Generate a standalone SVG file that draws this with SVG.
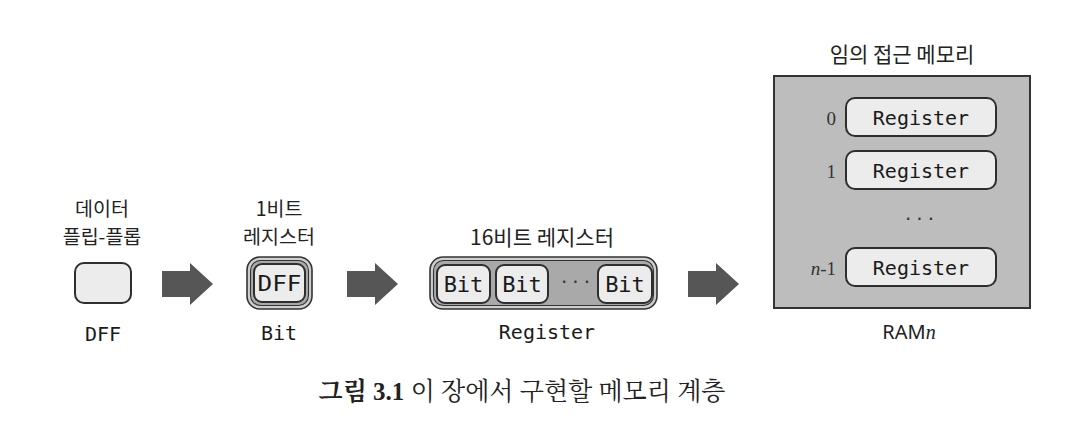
<svg xmlns="http://www.w3.org/2000/svg" width="1076" height="446" viewBox="0 0 1076 446">
<style>
.bg{fill:#ffffff}
.kr{font-family:"Noto Sans CJK KR","Noto Sans",sans-serif;font-size:20px;fill:#222;text-anchor:middle}
.kr19{font-size:19.5px}
.kr21{font-size:21px}
.mono{font-family:"DejaVu Sans Mono","Liberation Mono",monospace;fill:#1a1a1a;text-anchor:middle}
.lbl{font-size:20px}
.inbox{font-size:22px}
.num{font-family:"Liberation Serif",serif;font-size:19px;fill:#333;text-anchor:end}
.light{fill:#ececec;stroke:#2e2e2e;stroke-width:2}
.outer{fill:#cfcfcf;stroke:#333;stroke-width:1.6}
.band{fill:#a9a9a9;stroke:#333;stroke-width:1.1}
.ram{fill:#bdbdbd;stroke:#333;stroke-width:2}
.arrow{fill:#565656}
.dots{font-family:"DejaVu Sans",sans-serif;font-size:20px;fill:#333;text-anchor:middle;letter-spacing:5px}
.cap{font-family:"Liberation Serif","Noto Serif CJK KR","Noto Sans CJK KR",serif;font-size:25px;fill:#222;text-anchor:middle}
</style>
<rect class="bg" x="0" y="0" width="1076" height="446"/>

<g id="dff">
  <text class="kr kr19" x="102" y="215.5">데이터</text>
  <text class="kr kr19" x="102" y="244">플립-플롭</text>
  <rect class="light" x="75" y="263" width="56" height="40" rx="9"/>
  <text class="mono lbl" x="103" y="341">DFF</text>
</g>

<g id="bit">
  <text class="kr kr19" x="279" y="215.5">1비트</text>
  <text class="kr kr19" x="279" y="244">레지스터</text>
  <rect class="outer" x="247" y="257" width="65" height="52" rx="13"/>
  <rect class="band" x="250.5" y="260.5" width="58" height="45" rx="10"/>
  <rect class="light" x="254" y="264" width="51" height="38" rx="8"/>
  <text class="mono inbox" x="279.5" y="291" textLength="44" lengthAdjust="spacingAndGlyphs">DFF</text>
  <text class="mono lbl" x="279" y="340">Bit</text>
</g>

<g id="register">
  <text class="kr kr21" x="542" y="245">16비트 레지스터</text>
  <rect class="outer" x="430" y="257" width="227" height="52" rx="13"/>
  <rect class="band" x="433.5" y="260.5" width="220" height="45" rx="10"/>
  <rect class="light" x="437" y="265" width="53" height="38" rx="8"/>
  <rect class="light" x="496" y="265" width="52" height="38" rx="8"/>
  <rect class="light" x="598" y="265" width="54" height="38" rx="8"/>
  <text class="mono inbox" x="463.5" y="292">Bit</text>
  <text class="mono inbox" x="522" y="292">Bit</text>
  <text class="mono inbox" x="625" y="292">Bit</text>
  <text class="dots" x="578" y="289">···</text>
  <text class="mono lbl" x="547" y="339">Register</text>
</g>

<g id="ram">
  <text class="kr kr21" x="902" y="62">임의 접근 메모리</text>
  <rect class="ram" x="774" y="76" width="256" height="232"/>
  <rect class="light" x="846" y="98" width="150" height="38" rx="9"/>
  <rect class="light" x="846" y="151" width="150" height="38" rx="9"/>
  <rect class="light" x="846" y="248" width="150" height="38" rx="9"/>
  <text class="mono lbl" x="921" y="125">Register</text>
  <text class="mono lbl" x="921" y="178">Register</text>
  <text class="mono lbl" x="921" y="275">Register</text>
  <text class="num" x="836" y="125">0</text>
  <text class="num" x="836" y="178">1</text>
  <text class="num" x="836" y="275"><tspan font-style="italic">n</tspan>-1</text>
  <text class="dots" x="922" y="226">···</text>
  <text x="909" y="339" style="font-family:'Noto Sans','DejaVu Sans',sans-serif;font-size:20px;fill:#222;text-anchor:middle">RAM<tspan style="font-family:'Liberation Serif',serif;font-style:italic">n</tspan></text>
</g>

<g id="connectors">
  <polygon class="arrow" points="162,271 190,271 190,263 213,284 190,305 190,297 162,297"/>
  <polygon class="arrow" points="347,271 375,271 375,263 398,284 375,305 375,297 347,297"/>
  <polygon class="arrow" points="688,271 716,271 716,263 739,284 716,305 716,297 688,297"/>
</g>

<g id="caption">
  <text class="cap" x="522" y="400"><tspan font-weight="bold">그림 3.1</tspan> 이 장에서 구현할 메모리 계층</text>
</g>
</svg>
